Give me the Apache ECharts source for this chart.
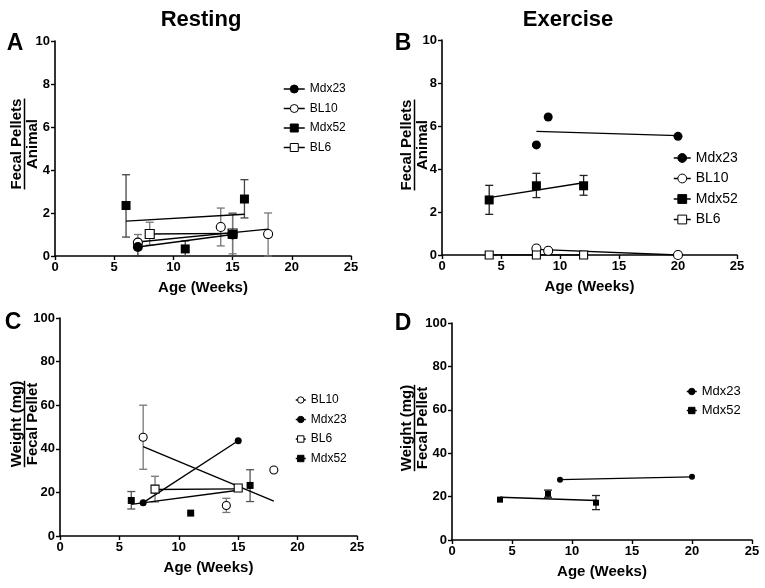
<!DOCTYPE html>
<html><head><meta charset="utf-8">
<script src="https://cdn.jsdelivr.net/npm/echarts@6/dist/echarts.min.js"></script>
<style>html,body{margin:0;padding:0;background:#fff}#c{width:765px;height:588px}</style>
</head><body><div id="c"></div>
<script>
// ---------- data ([x, y, errLow, errHigh]) ----------
const xTicks = [0, 5, 10, 15, 20, 25];
// Panel A: Resting, fecal pellets / animal
const A_mdx23 = [[7, 0.42, 0, 0.7], [15, 1.0]];
const A_mdx23_fit = [[7, 0.42], [15, 1.0]];
const A_bl10 = [[7, 0.62, 0.3, 1.0], [14, 1.35, 0.47, 2.23], [18, 1.02, 0, 2.0]];
const A_bl10_fit = [[7, 0.65], [18, 1.25]];
const A_mdx52 = [[6, 2.35, 0.88, 3.78], [11, 0.33, 0, 0.7], [15, 1.0, 0, 1.97], [16, 2.65, 1.77, 3.55]];
const A_mdx52_fit = [[6, 1.62], [16, 1.94]];
const A_bl6 = [[8, 1.02, 0.5, 1.57], [15, 1.05, 0.1, 2.0]];
const A_bl6_fit = [[8, 1.02], [15, 1.05]];
// Panel B: Exercise, fecal pellets / animal
const B_mdx23 = [[8, 5.12], [9, 6.42], [20, 5.52]];
const B_mdx23_fit = [[8, 5.75], [20, 5.55]];
const B_bl10 = [[8, 0.3], [9, 0.2], [20, 0]];
const B_bl10_fit = [[8, 0.26], [20, 0]];
const B_mdx52 = [[4, 2.56, 1.89, 3.24], [8, 3.22, 2.67, 3.8], [12, 3.22, 2.78, 3.7]];
const B_mdx52_fit = [[4, 2.67], [12, 3.36]];
const B_bl6 = [[4, 0], [8, 0], [12, 0]];
const B_bl6_fit = [[4, 0], [12, 0]];
// Panel C: Resting, weight (mg) / fecal pellet
const C_bl10 = [[7, 45.3, 30.6, 60], [14, 14, 10.8, 17.3], [18, 30.3]];
const C_bl10_fit = [[7, 41], [18, 16]];
const C_mdx23 = [[7, 15.3], [15, 43.7]];
const C_mdx23_fit = [[7, 15.3], [15, 43.7]];
const C_bl6 = [[8, 21.5, 15.6, 27.4], [15, 22]];
const C_bl6_fit = [[8, 21.3], [15, 21.6]];
const C_mdx52 = [[6, 16.3, 12.4, 20.4], [11, 10.5], [16, 23.2, 15.8, 30.4]];
const C_mdx52_fit = [[6, 14.5], [15, 21]];
// Panel D: Exercise, weight (mg) / fecal pellet
const D_mdx23 = [[9, 27.8], [20, 29.1]];
const D_mdx23_fit = [[9, 27.8], [20, 29.1]];
const D_mdx52 = [[4, 18.6], [8, 21.3, 19.7, 23], [12, 17.2, 14, 20.5]];
const D_mdx52_fit = [[4, 19.7], [12, 18.2]];

// ---------- layout / style ----------
const FF = '"Liberation Sans", Arial, sans-serif';
const chart = echarts.init(document.getElementById('c'), null, {renderer: 'canvas'});

const grids = [
  {left: 55, right: 414, top: 41, bottom: 332},
  {left: 442, right: 28, top: 40, bottom: 333},
  {left: 60, right: 408, top: 318, bottom: 52},
  {left: 452, right: 13, top: 323, bottom: 48}
];
const yMax = [10, 10, 100, 100];
const yInt = [2, 2, 20, 20];

const axisCommon = {
  axisLine: {show: true, lineStyle: {color: '#000', width: 1.6}},
  axisTick: {show: true, length: 4, lineStyle: {color: '#000', width: 1.4}},
  axisLabel: {color: '#000', fontFamily: FF, fontWeight: 'bold', fontSize: 13, margin: 5},
  splitLine: {show: false}
};
const xAxes = grids.map((g, i) => Object.assign({}, axisCommon, {
  type: 'value', gridIndex: i, min: xTicks[0], max: xTicks[xTicks.length - 1], interval: 5,
  name: 'Age (Weeks)', nameLocation: 'middle', nameGap: 24,
  nameTextStyle: {color: '#000', fontFamily: FF, fontWeight: 'bold', fontSize: 15},
  axisLabel: Object.assign({}, axisCommon.axisLabel, {margin: 5})
}));
const yAxes = grids.map((g, i) => Object.assign({}, axisCommon, {
  type: 'value', gridIndex: i, min: 0, max: yMax[i], interval: yInt[i]
}));

const series = [];
function addGroup(g, name, pts, fit, symbol, size, filled, errColor) {
  const item = filled ? {color: '#000', borderColor: '#000', borderWidth: 0, opacity: 1}
                      : {color: '#fff', borderColor: '#000', borderWidth: 1.1, opacity: 1};
  // regression line (also supplies legend icon)
  series.push({
    type: 'line', name: name, xAxisIndex: g, yAxisIndex: g, data: fit,
    symbol: symbol, showSymbol: false, silent: true, animation: false,
    lineStyle: {color: '#000', width: 1.4}, itemStyle: item, z: 3
  });
  // error bars
  const eb = pts.filter(d => d.length > 2).map(d => [d[0], d[2], d[3]]);
  if (eb.length) {
    series.push({
      type: 'custom', xAxisIndex: g, yAxisIndex: g, data: eb, silent: true, animation: false,
      encode: {x: 0, y: [1, 2]}, z: 2,
      renderItem: function (params, api) {
        const x = api.value(0), lo = api.value(1), hi = api.value(2);
        const a = api.coord([x, lo]), b = api.coord([x, hi]);
        const w = 4, st = {stroke: errColor, lineWidth: 1.3};
        return {type: 'group', children: [
          {type: 'line', shape: {x1: a[0], y1: a[1], x2: b[0], y2: b[1]}, style: st},
          {type: 'line', shape: {x1: b[0] - w, y1: b[1], x2: b[0] + w, y2: b[1]}, style: st},
          {type: 'line', shape: {x1: a[0] - w, y1: a[1], x2: a[0] + w, y2: a[1]}, style: st}
        ]};
      }
    });
  }
  // markers
  series.push({
    type: 'scatter', name: name + '_pts', xAxisIndex: g, yAxisIndex: g,
    data: pts.map(d => [d[0], d[1]]), symbol: symbol, symbolSize: size,
    itemStyle: item, silent: true, animation: false, z: filled ? 5 : 4
  });
}
// A
addGroup(0, 'A_Mdx23', A_mdx23, A_mdx23_fit, 'circle', 10, true, '#333');
addGroup(0, 'A_BL10', A_bl10, A_bl10_fit, 'circle', 9, false, '#777');
addGroup(0, 'A_Mdx52', A_mdx52, A_mdx52_fit, 'rect', 9, true, '#444');
addGroup(0, 'A_BL6', A_bl6, A_bl6_fit, 'rect', 9, false, '#777');
// B
addGroup(1, 'B_Mdx23', B_mdx23, B_mdx23_fit, 'circle', 9, true, '#222');
addGroup(1, 'B_BL10', B_bl10, B_bl10_fit, 'circle', 9, false, '#222');
addGroup(1, 'B_Mdx52', B_mdx52, B_mdx52_fit, 'rect', 9, true, '#222');
addGroup(1, 'B_BL6', B_bl6, B_bl6_fit, 'rect', 8, false, '#222');
// C
addGroup(2, 'C_BL10', C_bl10, C_bl10_fit, 'circle', 8, false, '#777');
addGroup(2, 'C_Mdx23', C_mdx23, C_mdx23_fit, 'circle', 7, true, '#333');
addGroup(2, 'C_BL6', C_bl6, C_bl6_fit, 'rect', 8, false, '#777');
addGroup(2, 'C_Mdx52', C_mdx52, C_mdx52_fit, 'rect', 7, true, '#555');
// D
addGroup(3, 'D_Mdx23', D_mdx23, D_mdx23_fit, 'circle', 6, true, '#222');
addGroup(3, 'D_Mdx52', D_mdx52, D_mdx52_fit, 'rect', 6, true, '#222');

function legend(left, top, names, fs, iw, ih, gap) {
  return {
    orient: 'vertical', left: left, top: top, data: names, itemWidth: iw, itemHeight: ih, itemGap: gap,
    padding: 0, formatter: n => n.slice(2), selectedMode: false,
    textStyle: {color: '#000', fontFamily: FF, fontSize: fs},
    itemStyle: {borderWidth: 1}, lineStyle: {width: 1.5}
  };
}
const legends = [
  legend(283, 83, ['A_Mdx23', 'A_BL10', 'A_Mdx52', 'A_BL6'], 12, 21, 10, 7.5),
  legend(673, 151, ['B_Mdx23', 'B_BL10', 'B_Mdx52', 'B_BL6'], 14, 17, 11, 6.5),
  legend(295, 394, ['C_BL10', 'C_Mdx23', 'C_BL6', 'C_Mdx52'], 12, 10, 8, 7.5),
  legend(686, 385, ['D_Mdx23', 'D_Mdx52'], 13, 10, 8, 6)
];

// text helpers
const ctx = document.createElement('canvas').getContext('2d');
function tw(t, font) { ctx.font = font; return ctx.measureText(t).width; }
const yFont = 'bold 15px ' + FF;
function txt(x, y, t, size, rot) {
  return {type: 'text', x: x, y: y, rotation: rot || 0, silent: true,
    style: {text: t, fill: '#000', font: 'bold ' + size + 'px ' + FF,
      textAlign: 'center', textVerticalAlign: 'middle', align: 'center', verticalAlign: 'middle'}};
}
function yName(cx, cy, top, bottom) {
  const w = tw(top, yFont);
  return [
    txt(cx, cy, top, 15, Math.PI / 2),
    {type: 'line', silent: true, shape: {x1: cx + 7.5, y1: cy - w / 2, x2: cx + 7.5, y2: cy + w / 2},
      style: {stroke: '#000', lineWidth: 1.5}},
    txt(cx + 16, cy, bottom, 15, Math.PI / 2)
  ];
}
const graphics = [
  txt(201, 20, 'Resting', 22), txt(568, 20, 'Exercise', 22),
  txt(15, 44, 'A', 23), txt(403, 44, 'B', 23), txt(13, 323, 'C', 23), txt(403, 324, 'D', 23)
].concat(
  yName(17, 144, 'Fecal Pellets', 'Animal'),
  yName(407, 145, 'Fecal Pellets', 'Animal'),
  yName(17, 424, 'Weight (mg)', 'Fecal Pellet'),
  yName(407, 428, 'Weight (mg)', 'Fecal Pellet')
);

chart.setOption({
  animation: false,
  backgroundColor: '#fff',
  grid: grids,
  xAxis: xAxes,
  yAxis: yAxes,
  legend: legends,
  series: series,
  graphic: {elements: graphics}
});
</script>
</body></html>
